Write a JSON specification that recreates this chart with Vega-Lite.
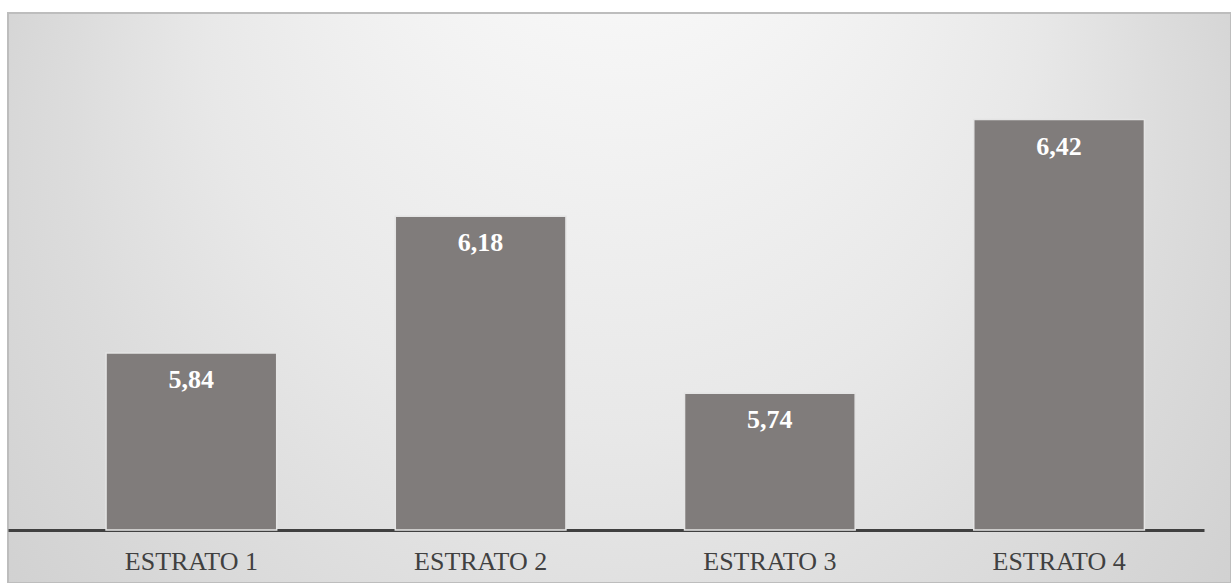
{
  "$schema": "https://vega.github.io/schema/vega-lite/v6.json",
  "width": 1223,
  "height": 570,
  "autosize": {"type": "none"},
  "padding": {"left": 8, "top": 13, "right": 0, "bottom": 0},
  "background": "#ffffff",
  "config": {
    "locale": {"number": {"decimal": ",", "thousands": ".", "grouping": [3], "currency": ["", " €"]}},
    "view": {
      "fill": {
        "gradient": "radial",
        "x1": 0.5, "y1": 0.0, "r1": 0,
        "x2": 0.5, "y2": 0.6, "r2": 0.75,
        "stops": [
          {"offset": 0, "color": "#fcfcfc"},
          {"offset": 0.2, "color": "#f6f6f6"},
          {"offset": 0.45, "color": "#e8e8e8"},
          {"offset": 0.6, "color": "#dcdcdc"},
          {"offset": 0.75, "color": "#d2d2d2"},
          {"offset": 1, "color": "#c8c8c8"}
        ]
      },
      "stroke": "#bdbdbd",
      "strokeWidth": 2
    }
  },
  "data": {
    "values": [
      {"estrato": "ESTRATO 1", "valor": 5.84},
      {"estrato": "ESTRATO 2", "valor": 6.18},
      {"estrato": "ESTRATO 3", "valor": 5.74},
      {"estrato": "ESTRATO 4", "valor": 6.42}
    ]
  },
  "encoding": {
    "x": {
      "field": "estrato",
      "type": "nominal",
      "sort": null,
      "scale": {"range": [0, 1196], "paddingInner": 0.41, "paddingOuter": 0.2725, "align": 0.622},
      "axis": {
        "title": null,
        "offset": -53,
        "domainColor": "#404040",
        "domainWidth": 3,
        "ticks": false,
        "tickSize": 0,
        "labelAngle": 0,
        "labelFont": "Liberation Serif",
        "labelFontSize": 26,
        "labelColor": "#404040",
        "labelBaseline": "middle",
        "labelPadding": 31
      }
    },
    "y": {
      "field": "valor",
      "type": "quantitative",
      "scale": {"domain": [5.268, 6.685], "nice": false, "zero": false},
      "axis": null
    }
  },
  "layer": [
    {
      "mark": {"type": "bar", "color": "#807c7b", "stroke": "#e4e4e4", "strokeWidth": 1.5},
      "encoding": {"y2": {"datum": 5.4}}
    },
    {
      "mark": {
        "type": "text",
        "color": "#ffffff",
        "font": "Liberation Serif",
        "fontWeight": "bold",
        "fontSize": 26,
        "baseline": "middle",
        "dy": 27
      },
      "encoding": {
        "text": {"field": "valor", "type": "quantitative", "format": ".2f"}
      }
    }
  ]
}
